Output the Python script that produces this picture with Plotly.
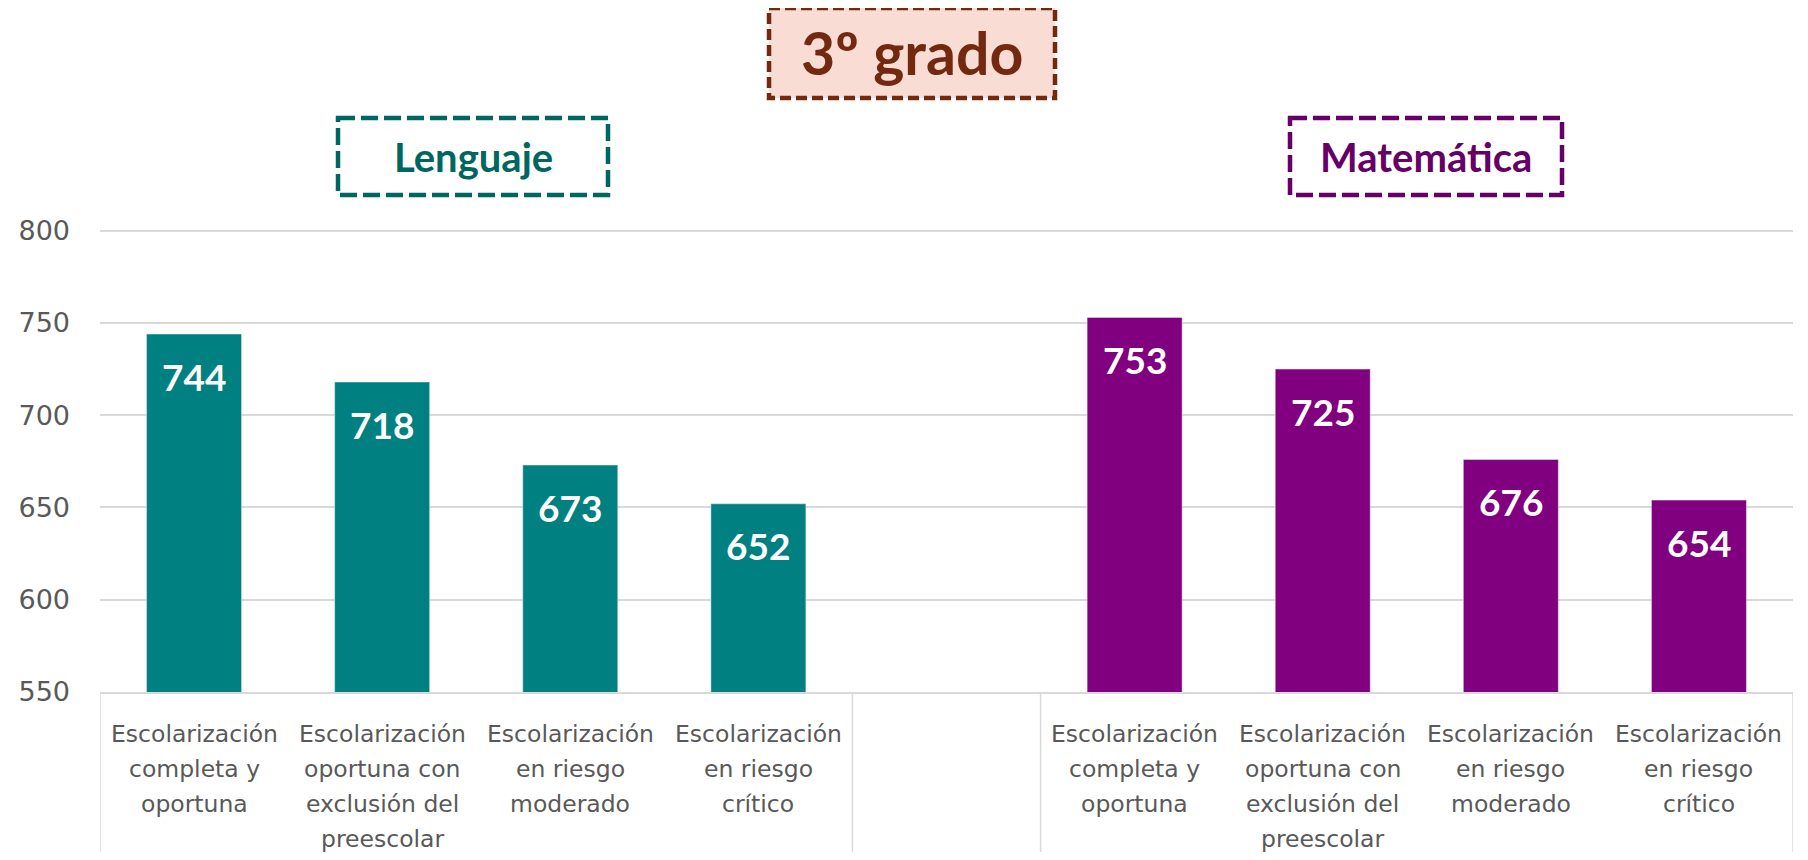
import plotly.graph_objects as go

# ---------------- data ----------------
subjects = ["Lenguaje", "Matemática"]
cat_labels = [
    "Escolarización\ncompleta y\noportuna",
    "Escolarización\noportuna con\nexclusión del\npreescolar",
    "Escolarización\nen riesgo\nmoderado",
    "Escolarización\nen riesgo\ncrítico",
]
lenguaje_vals = [744, 718, 673, 652]
matematica_vals = [753, 725, 676, 654]
y_ticks = [550, 600, 650, 700, 750, 800]
title_text = "3º grado"

# ---------------- styling ----------------
OFF = 8                      # default body margin of the page
W, H = 1808 - 2 * OFF, 860 - 2 * OFF
Y_MIN, Y_MAX = 550, 802
PX_PER_UNIT = 461.2 / 250
plot_left, plot_right, plot_bottom = 100, 1793, 692   # page px
PH = (Y_MAX - Y_MIN) * PX_PER_UNIT
L = plot_left - OFF
R = W - (plot_right - OFF)
B = H - (plot_bottom - OFF)
T = round(H - B - PH)
PW = W - L - R
PH = H - T - B

teal, purple = "#008080", "#800080"
teal_dark, purple_dark = "#006661", "#660066"
brown = "#73290F"
grey_txt = "#595959"
grid_c = "#d9d9d9"


def px_x(px):
    return (px - OFF - L) / PW


def px_y(py):
    return (H - B - (py - OFF)) / PH


cats_l = [f"L{i}" for i in range(len(cat_labels))]
cats_m = [f"M{i}" for i in range(len(cat_labels))]
all_cats = cats_l + ["gap"] + cats_m

fig = go.Figure()
fig.add_trace(go.Bar(x=cats_l, y=lenguaje_vals, marker_color=teal, name=subjects[0],
                     hoverinfo="y"))
fig.add_trace(go.Bar(x=cats_m, y=matematica_vals, marker_color=purple, name=subjects[1],
                     hoverinfo="y"))

annotations = []
# value labels inside bars
for cats, vals in ((cats_l, lenguaje_vals), (cats_m, matematica_vals)):
    for c, v in zip(cats, vals):
        annotations.append(dict(x=c, y=v, xref="x", yref="y", text=f"<b>{v}</b>",
                                showarrow=False, yanchor="middle", yshift=-42,
                                font=dict(family="Lato", size=37, color="white")))
# category labels, line by line
for cats in (cats_l, cats_m):
    for c, lab in zip(cats, cat_labels):
        for i, line in enumerate(lab.split("\n")):
            annotations.append(dict(x=c, y=0, xref="x", yref="paper", text=line,
                                    showarrow=False, yanchor="middle",
                                    yshift=-42 - 35 * i,
                                    font=dict(family="DejaVu Sans", size=23.5, color=grey_txt)))

# title boxes (page px)
boxes = [
    (title_text, 769, 8, 1055, 98, brown, "#F9DCD3", 59, "11px,5px", 4.5),
    (subjects[0], 338, 118, 608, 195, teal_dark, "rgba(0,0,0,0)", 40, "17px,6px", 4.5),
    (subjects[1], 1290, 118, 1562, 195, purple_dark, "rgba(0,0,0,0)", 40, "17px,6px", 4.5),
]
shapes = []
for txt, x0, y0, x1, y1, col, fill, fs, dash, lw in boxes:
    shapes.append(dict(type="rect", xref="paper", yref="paper",
                       x0=px_x(x0), x1=px_x(x1), y0=px_y(y0), y1=px_y(y1),
                       line=dict(color=col, width=lw, dash=dash), fillcolor=fill,
                       layer="above"))
    annotations.append(dict(x=px_x((x0 + x1) / 2), y=px_y((y0 + y1) / 2),
                            xref="paper", yref="paper", text=f"<b>{txt}</b>",
                            showarrow=False, xanchor="center", yanchor="middle",
                            font=dict(family="Lato", size=fs, color=col)))

# category group separators
n = len(cat_labels)
for xb in (-0.5, n - 0.5, n + 0.5, 2 * n + 0.5):
    shapes.append(dict(type="line", xref="x", yref="paper", x0=xb, x1=xb,
                       y0=0, y1=px_y(860), line=dict(color=grid_c, width=1.5)))

fig.update_layout(
    width=W, height=H, autosize=False,
    margin=dict(l=L, r=R, t=T, b=B, pad=0),
    paper_bgcolor="white", plot_bgcolor="white",
    showlegend=False,
    barmode="relative",
    bargap=0.495,
    annotations=annotations,
    shapes=shapes,
    xaxis=dict(type="category", categoryorder="array", categoryarray=all_cats,
               range=[-0.5, len(all_cats) - 0.5],
               showticklabels=False, showgrid=False, zeroline=False,
               showline=True, linecolor=grid_c, linewidth=1.5, ticks=""),
    yaxis=dict(range=[Y_MIN, Y_MAX], tickvals=y_ticks, ticktext=[str(t) for t in y_ticks],
               showgrid=True, gridcolor=grid_c, gridwidth=1.5, zeroline=False,
               showline=False, ticks="", ticklabelstandoff=29,
               tickfont=dict(family="DejaVu Sans", size=27, color=grey_txt)),
)

fig.write_html("out.html")
